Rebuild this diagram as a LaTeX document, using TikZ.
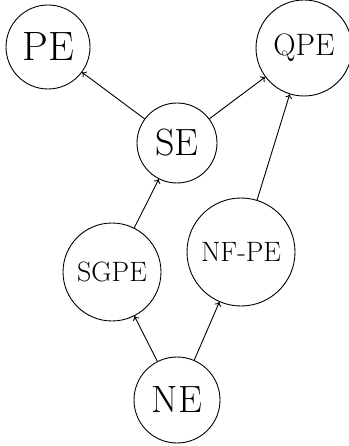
\documentclass[tikz,border=0pt]{standalone}
\usetikzlibrary{arrows.meta}
\begin{document}
\begin{tikzpicture}[x=1pt,y=-1pt,
  st/.style={draw,circle,line width=0.9pt,inner sep=0pt},
  edge/.style={line width=0.9pt,-{To[length=4pt,width=7pt]}}]
\useasboundingbox (0,0) rectangle (348,446);
\node[st,minimum size=84pt,font=\fontsize{41}{45}\selectfont] (PE) at (48,47) {PE};
\node[st,minimum size=96pt,font=\fontsize{31}{35}\selectfont] (QPE) at (304,48) {QPE};
\node[st,minimum size=80pt,font=\fontsize{38}{42}\selectfont] (SE) at (177,143) {SE};
\node[st,minimum size=98pt,font=\fontsize{28}{32}\selectfont] (SGPE) at (112,272) {SGPE};
\node[st,minimum size=108pt,font=\fontsize{28}{32}\selectfont] (NFPE) at (241,252) {NF-PE};
\node[st,minimum size=86pt,font=\fontsize{38}{42}\selectfont] (NE) at (177,400) {NE};
\draw[edge] (SE) -- (PE);
\draw[edge] (SE) -- (QPE);
\draw[edge] (SGPE) -- (SE);
\draw[edge] (NFPE) -- (QPE);
\draw[edge] (NE) -- (SGPE);
\draw[edge] (NE) -- (NFPE);
\end{tikzpicture}
\end{document}
